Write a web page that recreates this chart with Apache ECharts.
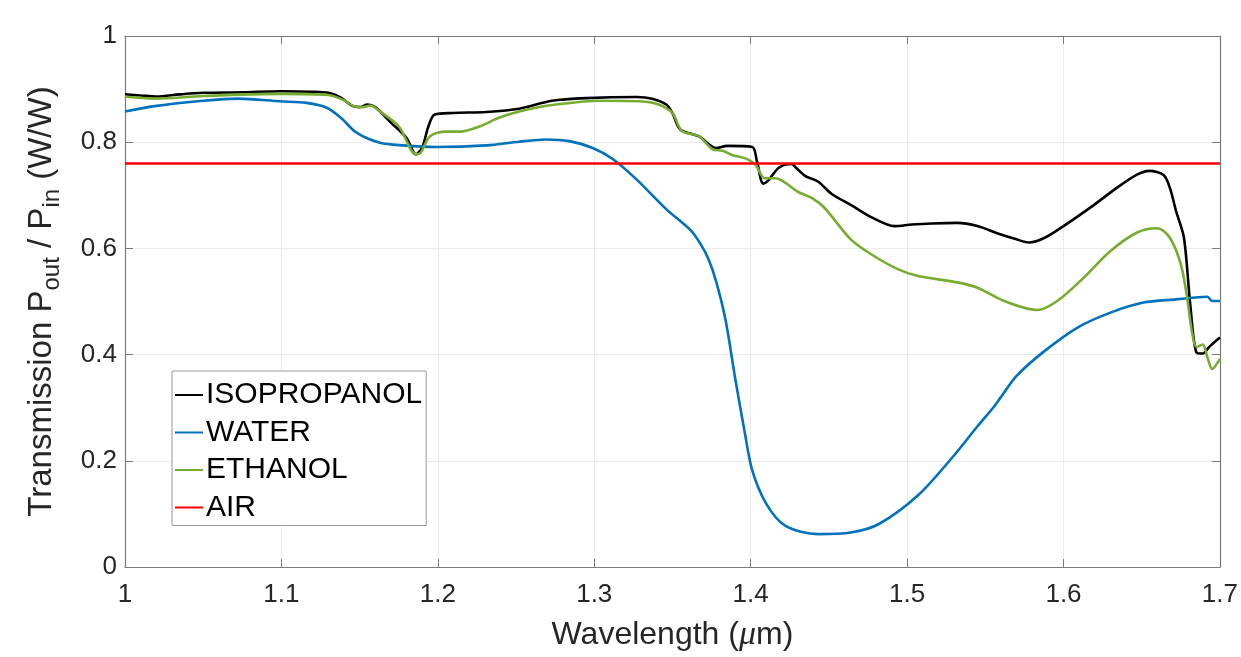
<!DOCTYPE html>
<html>
<head>
<meta charset="utf-8">
<script src="https://cdn.jsdelivr.net/npm/echarts@6/dist/echarts.min.js"></script>
<style>
html, body { margin: 0; padding: 0; background: #fff; }
#transChart { width: 1241px; height: 657px; }
</style>
</head>
<body>
<div id="transChart"></div>
<script>
// values (wavelength in um, transmission W/W)
var isoX = [1.000, 1.010, 1.020, 1.035, 1.050, 1.075, 1.100, 1.120, 1.130, 1.138, 1.145, 1.150, 1.155, 1.160, 1.170, 1.180, 1.186, 1.190, 1.194, 1.198, 1.210, 1.231, 1.252, 1.273, 1.295, 1.327, 1.337, 1.346, 1.350, 1.355, 1.367, 1.378, 1.385, 1.401, 1.404, 1.408, 1.411, 1.418, 1.426, 1.430, 1.435, 1.443, 1.452, 1.464, 1.477, 1.492, 1.503, 1.516, 1.532, 1.545, 1.558, 1.570, 1.578, 1.588, 1.600, 1.620, 1.634, 1.647, 1.655, 1.664, 1.668, 1.672, 1.677, 1.681, 1.685, 1.689, 1.693, 1.700];
var isoY = [0.890, 0.888, 0.886, 0.890, 0.893, 0.894, 0.896, 0.895, 0.893, 0.884, 0.869, 0.866, 0.871, 0.866, 0.837, 0.808, 0.777, 0.790, 0.830, 0.852, 0.855, 0.857, 0.863, 0.878, 0.883, 0.885, 0.882, 0.871, 0.855, 0.824, 0.811, 0.789, 0.793, 0.791, 0.764, 0.722, 0.727, 0.752, 0.759, 0.749, 0.736, 0.726, 0.702, 0.682, 0.659, 0.642, 0.645, 0.647, 0.648, 0.642, 0.628, 0.617, 0.611, 0.620, 0.642, 0.683, 0.714, 0.739, 0.746, 0.738, 0.714, 0.670, 0.620, 0.495, 0.404, 0.402, 0.414, 0.432];

var waterX = [1.000, 1.019, 1.050, 1.072, 1.099, 1.116, 1.129, 1.138, 1.148, 1.163, 1.178, 1.199, 1.231, 1.252, 1.269, 1.284, 1.299, 1.312, 1.327, 1.346, 1.362, 1.368, 1.373, 1.378, 1.384, 1.390, 1.396, 1.401, 1.410, 1.422, 1.443, 1.464, 1.482, 1.507, 1.530, 1.545, 1.555, 1.560, 1.570, 1.588, 1.609, 1.630, 1.651, 1.672, 1.692, 1.695, 1.700];
var waterY = [0.858, 0.868, 0.878, 0.882, 0.877, 0.874, 0.865, 0.846, 0.818, 0.799, 0.794, 0.791, 0.794, 0.801, 0.805, 0.802, 0.789, 0.768, 0.730, 0.674, 0.633, 0.608, 0.580, 0.537, 0.464, 0.357, 0.257, 0.182, 0.119, 0.078, 0.062, 0.065, 0.081, 0.135, 0.210, 0.265, 0.300, 0.320, 0.360, 0.407, 0.451, 0.479, 0.498, 0.504, 0.509, 0.501, 0.501];

var ethX = [1.000, 1.019, 1.050, 1.100, 1.130, 1.140, 1.146, 1.152, 1.157, 1.163, 1.175, 1.186, 1.189, 1.195, 1.205, 1.214, 1.227, 1.239, 1.252, 1.273, 1.305, 1.329, 1.341, 1.350, 1.356, 1.367, 1.376, 1.382, 1.388, 1.397, 1.403, 1.409, 1.416, 1.422, 1.430, 1.439, 1.447, 1.464, 1.477, 1.494, 1.507, 1.532, 1.545, 1.562, 1.583, 1.596, 1.613, 1.630, 1.647, 1.660, 1.668, 1.675, 1.679, 1.682, 1.685, 1.689, 1.692, 1.695, 1.700];
var ethY = [0.886, 0.882, 0.887, 0.891, 0.889, 0.879, 0.868, 0.866, 0.869, 0.858, 0.830, 0.777, 0.780, 0.811, 0.820, 0.820, 0.830, 0.846, 0.858, 0.870, 0.878, 0.877, 0.871, 0.855, 0.821, 0.811, 0.786, 0.784, 0.776, 0.769, 0.758, 0.732, 0.732, 0.724, 0.707, 0.695, 0.677, 0.617, 0.589, 0.561, 0.548, 0.536, 0.526, 0.501, 0.484, 0.501, 0.545, 0.595, 0.630, 0.638, 0.620, 0.570, 0.508, 0.445, 0.414, 0.419, 0.395, 0.373, 0.392];

var airX = [1.0, 1.7];
var airY = [0.76, 0.76];

var seriesNames = ["ISOPROPANOL", "WATER", "ETHANOL", "AIR"];
var xTicks = [1, 1.1, 1.2, 1.3, 1.4, 1.5, 1.6, 1.7];
var yTicks = [0, 0.2, 0.4, 0.6, 0.8, 1];

function pairs(xs, ys) {
    var out = [];
    for (var i = 0; i < xs.length; i++) {
        out.push([xs[i], ys[i]]);
    }
    return out;
}

var font = "Liberation Sans, Arial, Helvetica, sans-serif";
var textColor = "#262626";
var boxColor = "#7a7a7a";

function tickFmt(v) {
    return String(Math.round(v * 10) / 10);
}

var dom = document.getElementById("transChart");
var myChart = echarts.init(dom, null, { renderer: "canvas" });

var lineSeries = function (name, data, color, smooth) {
    return {
        name: name,
        type: "line",
        data: data,
        showSymbol: false,
        symbol: "none",
        smooth: smooth,
        lineStyle: { color: color, width: 2.6 },
        itemStyle: { color: color },
        animation: false,
        z: 3
    };
};

var option = {
    backgroundColor: "#ffffff",
    animation: false,
    grid: {
        left: 125,
        right: 19,
        top: 36,
        bottom: 89,
        containLabel: false
    },
    legend: {
        data: seriesNames,
        orient: "vertical",
        left: 172,
        top: 371,
        icon: "rect",
        itemWidth: 28,
        itemHeight: 2,
        itemGap: 7.5,
        padding: [9, 4, 3, 3],
        borderColor: "#999999",
        borderWidth: 1,
        backgroundColor: "#ffffff",
        textStyle: {
            fontFamily: font,
            fontSize: 30,
            color: "#000000",
            lineHeight: 30,
            padding: [0, 0, 0, -2]
        }
    },
    xAxis: [
        {
            type: "value",
            min: 1,
            max: 1.7,
            interval: 0.1,
            name: "Wavelength ({mu|\u03bc}m)",
            nameLocation: "middle",
            nameGap: 51,
            nameTextStyle: {
                fontFamily: font,
                fontSize: 32,
                color: textColor,
                rich: {
                    mu: { fontFamily: "Liberation Serif, DejaVu Serif, serif", fontStyle: "italic", fontSize: 34, color: textColor }
                }
            },
            axisLine: { show: true, onZero: false, lineStyle: { color: boxColor, width: 1.2 } },
            axisTick: { show: true, inside: true, length: 8, lineStyle: { color: boxColor } },
            axisLabel: {
                margin: 15,
                fontFamily: font,
                fontSize: 26,
                color: textColor,
                formatter: tickFmt
            },
            splitLine: { show: true, lineStyle: { color: "#ebebeb", width: 1 } }
        },
        {
            type: "value",
            position: "top",
            min: 1,
            max: 1.7,
            interval: 0.1,
            axisLine: { show: true, onZero: false, lineStyle: { color: boxColor, width: 1.2 } },
            axisTick: { show: true, inside: true, length: 8, lineStyle: { color: boxColor } },
            axisLabel: { show: false },
            splitLine: { show: false }
        }
    ],
    yAxis: [
        {
            type: "value",
            min: 0,
            max: 1,
            interval: 0.2,
            name: "Transmission P{sub|out} / P{sub|in} (W/W)",
            nameLocation: "middle",
            nameGap: 61,
            nameTextStyle: {
                fontFamily: font,
                fontSize: 33,
                color: textColor,
                lineHeight: 45,
                rich: {
                    sub: { fontFamily: font, fontSize: 24, color: textColor, lineHeight: 14, verticalAlign: "bottom" }
                }
            },
            axisLine: { show: true, onZero: false, lineStyle: { color: boxColor, width: 1.2 } },
            axisTick: { show: true, inside: true, length: 8, lineStyle: { color: boxColor } },
            axisLabel: {
                margin: 8,
                fontFamily: font,
                fontSize: 26,
                color: textColor,
                formatter: tickFmt
            },
            splitLine: { show: true, lineStyle: { color: "#ebebeb", width: 1 } }
        },
        {
            type: "value",
            position: "right",
            min: 0,
            max: 1,
            interval: 0.2,
            axisLine: { show: true, onZero: false, lineStyle: { color: boxColor, width: 1.2 } },
            axisTick: { show: true, inside: true, length: 8, lineStyle: { color: boxColor } },
            axisLabel: { show: false },
            splitLine: { show: false }
        }
    ],
    series: [
        lineSeries(seriesNames[0], pairs(isoX, isoY), "#000000", 0.3),
        lineSeries(seriesNames[1], pairs(waterX, waterY), "#0072BD", 0.3),
        lineSeries(seriesNames[2], pairs(ethX, ethY), "#77AC30", 0.3),
        lineSeries(seriesNames[3], pairs(airX, airY), "#FF0000", false)
    ]
};
myChart.setOption(option, true);
</script>
</body>
</html>
